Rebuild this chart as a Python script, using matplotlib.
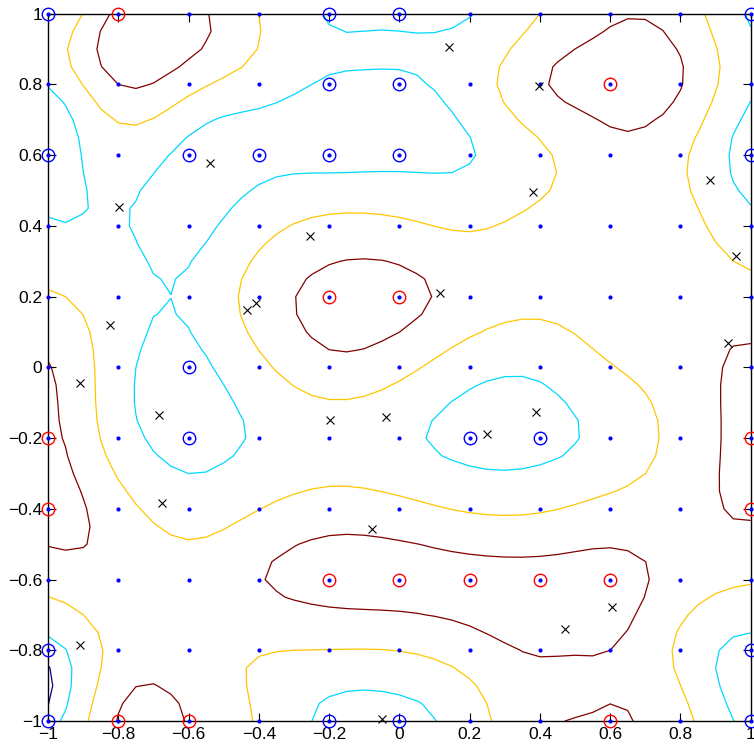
import numpy as np
import matplotlib
matplotlib.use('Agg')
import matplotlib.pyplot as plt
from matplotlib.ticker import FuncFormatter

plt.rcParams['font.family'] = ['Liberation Sans', 'DejaVu Sans']

# training grid
grid_x = [-1.0, -0.8, -0.6, -0.4, -0.2, 0.0, 0.2, 0.4, 0.6, 0.8, 1.0]
grid_y = [-1.0, -0.8, -0.6, -0.4, -0.2, 0.0, 0.2, 0.4, 0.6, 0.8, 1.0]

# decision value read at each grid node, rows from y=1 down to y=-1
decision = [
    [-1.08, 1.25, 1.30, 0.00, -1.05, -1.08, -1.03, 0.00, 0.90, 0.60, -1.10],
    [-0.95, 1.00, 0.35, -0.55, -1.08, -1.12, -0.55, 0.90, 1.25, 1.05, -0.85],
    [-1.30, -0.60, -1.25, -1.30, -1.30, -1.25, -1.05, -0.20, 0.75, 0.20, -1.30],
    [-0.95, -0.95, -1.25, -0.38, 0.28, 0.20, -0.10, 0.30, 0.50, 0.45, -0.75],
    [0.13, -0.65, -0.90, 0.43, 1.30, 1.30, 0.60, 0.30, 0.50, 0.65, 0.45],
    [1.05, -0.65, -1.25, -0.24, 0.70, 0.30, -0.63, -0.80, -0.05, 0.50, 1.15],
    [1.20, -0.50, -1.30, -0.90, -0.55, -0.80, -1.30, -1.30, -0.67, 0.35, 1.20],
    [1.35, 0.40, -0.51, -0.02, 0.48, 0.30, -0.10, -0.10, 0.30, 0.60, 1.10],
    [0.40, 0.75, 0.45, 0.95, 1.35, 1.40, 1.35, 1.35, 1.35, 0.60, 0.10],
    [-1.30, 0.35, 0.40, 0.05, -0.02, 0.02, 0.55, 1.05, 1.00, -0.20, -1.25],
    [-1.30, 1.05, 0.95, -0.10, -1.20, -1.25, -0.50, 0.90, 1.05, 0.35, -1.20],
]

# a few extra readings between the nodes
extra_x = [-0.1, 0.1, -0.3, -1.0, -1.0, -0.55, -0.5, -0.3, 0.75, 0.5, 0.7, 1.0]
extra_y = [0.9, 0.9, 0.9, 0.9, -0.91, 0.93, 0.7, 0.75, 0.92, -0.9, -0.6, 0.89]
extra_val = [-0.93, -0.9, -0.6, -0.5, -1.6, 1.05, -1.08, -1.1, 1.1, 0.88, 1.05, -0.8]

# support vectors
red_sv_x = [-0.8, 0.6, -0.2, 0.0, -1.0, 1.0, -1.0, 1.0, -0.2, 0.0, 0.2, 0.4, 0.6, -0.8, -0.6, 0.6]
red_sv_y = [1.0, 0.8, 0.2, 0.2, -0.2, -0.2, -0.4, -0.4, -0.6, -0.6, -0.6, -0.6, -0.6, -1.0, -1.0, -1.0]
blue_sv_x = [-1.0, -0.2, 0.0, 1.0, -0.2, 0.0, -1.0, -0.6, -0.4, -0.2, 0.0, 1.0,
             -0.6, -0.6, 0.2, 0.4, -1.0, 1.0, -1.0, -0.2, 0.0, 1.0]
blue_sv_y = [1.0, 1.0, 1.0, 1.0, 0.8, 0.8, 0.6, 0.6, 0.6, 0.6, 0.6, 0.6,
             0.0, -0.2, -0.2, -0.2, -0.8, -0.8, -1.0, -1.0, -1.0, -1.0]

# test points
test_x = [0.141, 0.398, -0.538, -0.798, -0.254, -0.433, -0.409, -0.823, 0.381, 0.884,
          0.958, 0.116, 0.934, -0.908, -0.683, -0.197, -0.038, -0.675, -0.077, -0.909,
          -0.050, 0.388, 0.249, 0.604, 0.471]
test_y = [0.906, 0.796, 0.577, 0.453, 0.371, 0.162, 0.183, 0.120, 0.496, 0.529,
          0.315, 0.211, 0.068, -0.045, -0.135, -0.149, -0.140, -0.383, -0.457, -0.785,
          -0.995, -0.126, -0.189, -0.677, -0.740]

levels = [-1.5, -1.0, 0.0, 1.0]
level_colors = ['#00008f', '#00d8ff', '#ffc600', '#800000']

# smooth decision surface through the readings (gaussian kernel)
gx, gy = np.meshgrid(grid_x, grid_y)
nodes = np.vstack([np.column_stack([gx.ravel(), gy.ravel()]),
                   np.column_stack([extra_x, extra_y])])
z = np.concatenate([np.array(decision)[::-1].ravel(), extra_val])
sigma = 0.13
d2 = ((nodes[:, None, :] - nodes[None, :, :]) ** 2).sum(-1)
K = np.exp(-d2 / (2 * sigma ** 2))
mu = z.mean()
w = np.linalg.solve(K + 1e-8 * np.eye(len(z)), z - mu)

fx = np.linspace(-1, 1, 41)
fy = np.linspace(-1, 1, 41)
FX, FY = np.meshgrid(fx, fy)
pts = np.column_stack([FX.ravel(), FY.ravel()])
d2f = ((pts[:, None, :] - nodes[None, :, :]) ** 2).sum(-1)
F = (np.exp(-d2f / (2 * sigma ** 2)) @ w + mu).reshape(FX.shape)

fig = plt.figure(figsize=(7.54, 7.51), dpi=100)
ax = fig.add_axes([0.0637, 0.0399, 0.932, 0.9418])

ax.contour(FX, FY, F, levels=levels, colors=level_colors, linewidths=0.9)

ax.plot(gx.ravel(), gy.ravel(), '.', color='blue', markersize=4, clip_on=False, zorder=3)
ax.plot(blue_sv_x, blue_sv_y, 'o', mfc='none', mec='blue', markersize=9, mew=1.0,
        clip_on=False, zorder=4)
ax.plot(red_sv_x, red_sv_y, 'o', mfc='none', mec='red', markersize=9, mew=1.0,
        clip_on=False, zorder=4)
ax.plot(test_x, test_y, 'x', color='black', markersize=6, mew=0.8, clip_on=False, zorder=5)

ax.set_xlim(-1, 1)
ax.set_ylim(-1, 1)
ticks = np.round(np.arange(-1, 1.01, 0.2), 1)
ax.set_xticks(ticks)
ax.set_yticks(ticks)
fmt = FuncFormatter(lambda v, p: ('%g' % round(v, 1)).replace('-', '\u2212') if abs(v) > 1e-9 else '0')
ax.xaxis.set_major_formatter(fmt)
ax.yaxis.set_major_formatter(fmt)
ax.tick_params(direction='in', top=True, right=True, length=6, width=0.8,
               labelsize=12.5, pad=4)
for s in ax.spines.values():
    s.set_linewidth(1.0)

fig.savefig('out.png', dpi=100)
